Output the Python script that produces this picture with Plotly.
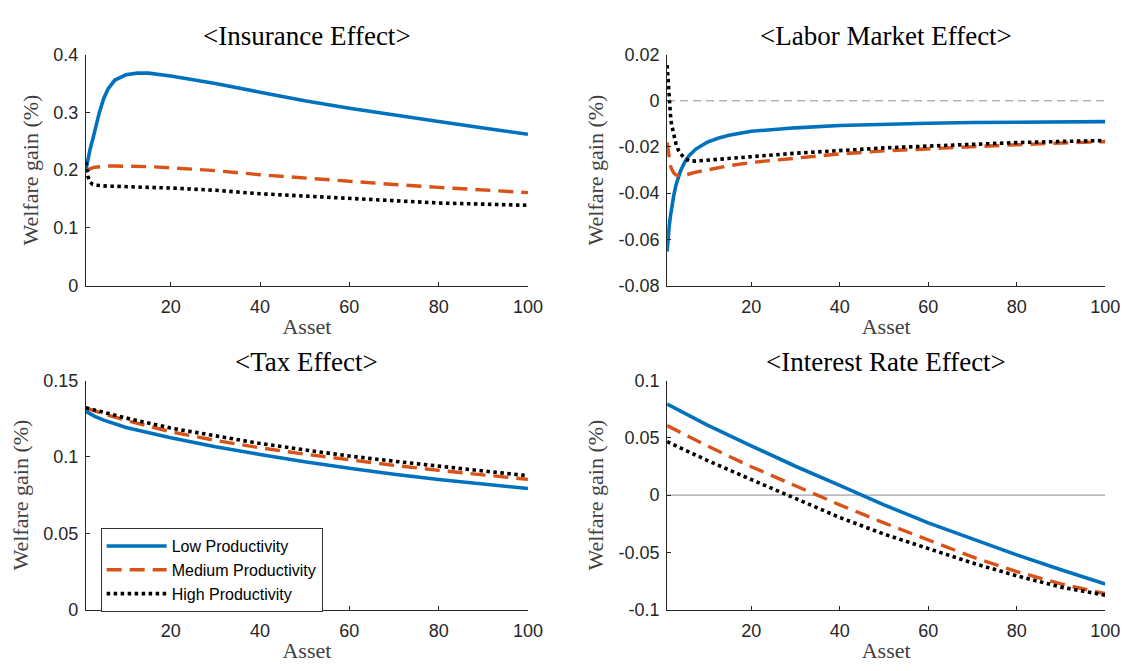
import plotly.graph_objects as go

# ---------------- data ----------------
series_names = ["Low Productivity", "Medium Productivity", "High Productivity"]
panel_titles = ["&lt;Insurance Effect&gt;", "&lt;Labor Market Effect&gt;",
                "&lt;Tax Effect&gt;", "&lt;Interest Rate Effect&gt;"]

asset_ins = [1, 1.25, 1.5, 2, 2.5, 3, 4, 5, 6, 7.5, 10, 12.5, 15, 20, 30, 40, 50, 60, 70, 80, 90, 100]
ins_low = [0.200, 0.211, 0.222, 0.238, 0.252, 0.270, 0.299, 0.324, 0.341, 0.356, 0.365, 0.368, 0.368,
           0.363, 0.350, 0.335, 0.320, 0.307, 0.295, 0.284, 0.273, 0.262]
ins_med = [0.199, 0.200, 0.201, 0.203, 0.204, 0.205, 0.206, 0.206, 0.207, 0.207, 0.207, 0.206, 0.206,
           0.204, 0.199, 0.192, 0.186, 0.180, 0.175, 0.170, 0.165, 0.161]
ins_high = [0.214, 0.198, 0.188, 0.179, 0.175, 0.174, 0.173, 0.173, 0.172, 0.172, 0.171, 0.171, 0.170,
            0.169, 0.165, 0.159, 0.155, 0.151, 0.147, 0.143, 0.141, 0.139]

asset_lab = [1, 1.25, 1.5, 1.75, 2, 2.5, 3, 3.5, 4, 5, 6, 7.5, 10, 12.5, 15, 20, 30, 40, 50, 60, 70, 80, 90, 100]
lab_low = [-0.0653, -0.0580, -0.0537, -0.0500, -0.0465, -0.0410, -0.0365, -0.0330, -0.0305, -0.0265,
           -0.0237, -0.0209, -0.0180, -0.0162, -0.0149, -0.0132, -0.0117, -0.0107, -0.0101, -0.0097,
           -0.0094, -0.0092, -0.0091, -0.0090]
lab_med = [-0.0180, -0.0220, -0.0250, -0.0280, -0.0295, -0.0312, -0.0321, -0.0324, -0.0325, -0.0322,
           -0.0316, -0.0309, -0.0300, -0.0290, -0.0281, -0.0267, -0.0247, -0.0230, -0.0217, -0.0207,
           -0.0198, -0.0190, -0.0183, -0.0177]
lab_high = [0.0155, 0.0065, 0.0002, -0.0060, -0.0102, -0.0152, -0.0186, -0.0212, -0.0228, -0.0250,
            -0.0259, -0.0261, -0.0258, -0.0253, -0.0249, -0.0242, -0.0227, -0.0214, -0.0204, -0.0196,
            -0.0188, -0.0181, -0.0176, -0.0172]

asset_tax = [1, 3, 5, 10, 20, 30, 40, 50, 60, 70, 80, 90, 100]
tax_low = [0.1298, 0.1266, 0.1241, 0.1193, 0.1125, 0.1067, 0.1016, 0.0968, 0.0926, 0.0886, 0.0852, 0.0820, 0.0793]
tax_med = [0.1320, 0.1300, 0.1282, 0.1240, 0.1165, 0.1108, 0.1060, 0.1018, 0.0980, 0.0945, 0.0912, 0.0882, 0.0853]
tax_high = [0.1322, 0.1306, 0.1290, 0.1255, 0.1189, 0.1136, 0.1088, 0.1046, 0.1006, 0.0972, 0.0938, 0.0908, 0.0877]

asset_int = [1, 10, 20, 30, 40, 50, 60, 70, 80, 90, 100]
int_low = [0.0795, 0.0613, 0.0431, 0.0252, 0.0085, -0.0085, -0.0243, -0.0385, -0.0522, -0.0652, -0.0776]
int_med = [0.0607, 0.0431, 0.0248, 0.0080, -0.0085, -0.0243, -0.0395, -0.0540, -0.0668, -0.0776, -0.0862]
int_high = [0.0467, 0.0304, 0.0136, -0.0032, -0.0195, -0.0341, -0.0467, -0.0593, -0.0705, -0.0804, -0.0874]

x_ticks = [20, 40, 60, 80, 100]
x_ticklabels = ["20", "40", "60", "80", "100"]
ins_yticks = [0, 0.1, 0.2, 0.3, 0.4]
ins_ylabels = ["0", "0.1", "0.2", "0.3", "0.4"]
lab_yticks = [-0.08, -0.06, -0.04, -0.02, 0, 0.02]
lab_ylabels = ["-0.08", "-0.06", "-0.04", "-0.02", "0", "0.02"]
tax_yticks = [0, 0.05, 0.1, 0.15]
tax_ylabels = ["0", "0.05", "0.1", "0.15"]
int_yticks = [-0.1, -0.05, 0, 0.05, 0.1]
int_ylabels = ["-0.1", "-0.05", "0", "0.05", "0.1"]

# ---------------- styling ----------------
colors = ["#0072BD", "#D95319", "#000000"]
dashes = ["solid", "15px,8px", "3.5px,3.5px"]
widths = [3.6, 3.4, 3.6]
axis_col = "#262626"
sans = "Liberation Sans, Arial, sans-serif"
serif = "Liberation Serif, Times New Roman, serif"
tick_font = dict(family=sans, size=18, color=axis_col)

W, H = 1140, 671
col_dom = [[87 / W, 535 / W], [676 / W, 1120 / W]]
row_dom = [[1 - 284 / H, 1 - 46 / H], [1 - 618 / H, 1 - 382 / H]]

panels = [
    (asset_ins, [ins_low, ins_med, ins_high], [0, 0.4], ins_yticks, ins_ylabels, 0, 0, None),
    (asset_lab, [lab_low, lab_med, lab_high], [-0.08, 0.02], lab_yticks, lab_ylabels, 0, 1, "dash"),
    (asset_tax, [tax_low, tax_med, tax_high], [0, 0.15], tax_yticks, tax_ylabels, 1, 0, None),
    (asset_int, [int_low, int_med, int_high], [-0.1, 0.1], int_yticks, int_ylabels, 1, 1, "solid"),
]

fig = go.Figure()
layout = {}
annotations = []
for i, (xs, ys_list, yr, yt, yl, r, c, zero) in enumerate(panels):
    n = "" if i == 0 else str(i + 1)
    xa, ya = "x" + n, "y" + n
    if zero is not None:
        fig.add_trace(go.Scatter(
            x=[xs[0], xs[-1]], y=[0, 0], xaxis=xa, yaxis=ya, mode="lines",
            line=dict(color="#8c8c8c", width=1, dash="8px,5px" if zero == "dash" else "solid"),
            showlegend=False, hoverinfo="skip"))
    for k, ys in enumerate(ys_list):
        fig.add_trace(go.Scatter(
            x=xs, y=ys, xaxis=xa, yaxis=ya, mode="lines", name=series_names[k],
            line=dict(color=colors[k], width=widths[k], dash=dashes[k]),
            showlegend=(i == 2)))
    layout["xaxis" + n] = dict(
        domain=col_dom[c], anchor=ya, range=[1, 100], tickvals=x_ticks, ticktext=x_ticklabels,
        ticks="inside", ticklen=4, tickcolor=axis_col, showline=True, linecolor=axis_col,
        linewidth=1, showgrid=False, zeroline=False, tickfont=tick_font, ticklabelstandoff=5,
        title=dict(text="Asset", font=dict(family=serif, size=22, color="#404040"), standoff=2))
    layout["yaxis" + n] = dict(
        domain=row_dom[r], anchor=xa, range=yr, tickvals=yt, ticktext=yl,
        ticks="inside", ticklen=4, tickcolor=axis_col, showline=True, linecolor=axis_col,
        linewidth=1, showgrid=False, zeroline=False, tickfont=tick_font, ticklabelstandoff=3,
        title=dict(text="Welfare gain (%)", font=dict(family=serif, size=22, color="#404040"), standoff=8))
    annotations.append(dict(
        text=panel_titles[i], xref="paper", yref="paper",
        x=(col_dom[c][0] + col_dom[c][1]) / 2, y=row_dom[r][1] + 19 / H,
        xanchor="center", yanchor="middle", showarrow=False,
        font=dict(family=serif, size=27, color="#000000")))

fig.update_layout(
    width=W, height=H, margin=dict(l=0, r=0, t=0, b=0),
    paper_bgcolor="white", plot_bgcolor="white",
    annotations=annotations,
    legend=dict(x=102 / W, y=1 - 534 / H, xanchor="left", yanchor="top",
                bgcolor="white", bordercolor="#333333", borderwidth=1,
                font=dict(family=sans, size=16, color="#000000"),
                tracegroupgap=0, itemwidth=60),
    **layout)

fig.write_html("out.html", config={"displayModeBar": False},
               post_script="document.body.style.margin='0';document.body.style.overflow='hidden';")
